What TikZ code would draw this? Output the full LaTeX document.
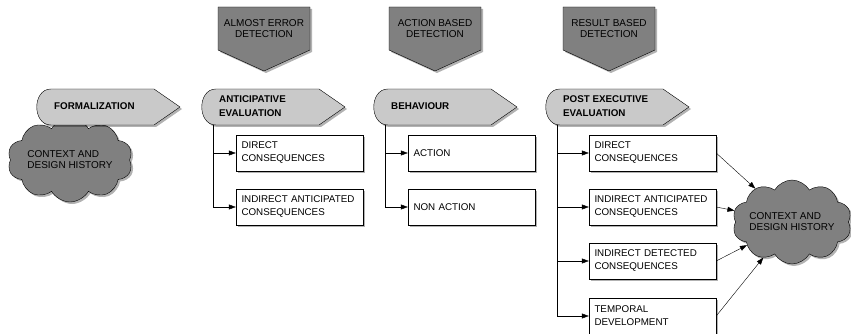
\documentclass[tikz,border=0pt]{standalone}
\usepackage{fontspec}
\setmainfont{Liberation Sans}
\usetikzlibrary{arrows.meta, shapes.symbols, shadows}
\definecolor{darkgrey}{gray}{0.5}
\definecolor{lightgrey}{gray}{0.79}
\tikzset{
  dropsh/.style={drop shadow={shadow xshift=2pt, shadow yshift=-2pt, opacity=.3, fill=black}},
  dettag/.style={draw, thin, fill=darkgrey, dropsh},
  dettext/.style={align=center, font=\fontsize{10}{11}\selectfont},
  phase/.style={draw, thin, fill=lightgrey, dropsh},
  phasetext/.style={align=left, anchor=west, inner sep=0pt, font=\fontsize{9.8}{14}\selectfont\bfseries},
  conbox/.style={draw, thin, fill=white, dropsh, minimum width=127pt, minimum height=36pt,
    text width=116pt, inner xsep=5.5pt, align=left, font=\fontsize{9.8}{13}\selectfont},
  history/.style={cloud, cloud puffs=10, cloud puff arc=120, cloud ignores aspect, draw, thin,
    fill=darkgrey, dropsh, align=left, inner sep=0pt, font=\fontsize{10}{11}\selectfont},
  conn/.style={-{Triangle[length=7pt,width=5pt]}, thin}
}

\begin{document}
\begin{tikzpicture}[x=1pt, y=-1pt]
\useasboundingbox (0,0) rectangle (851,334);
% context clouds, behind the phases
\node[history, minimum width=125pt, minimum height=84pt] (ctxa) at (70,160) {CONTEXT AND\\DESIGN HISTORY};
\node[history, minimum width=118pt, minimum height=84pt] (ctxb) at (792,222) {CONTEXT AND\\DESIGN HISTORY};
% detection tags on top
\foreach \x/\n/\t in {218/aed/{ALMOST ERROR\\DETECTION}, 389/abd/{ACTION BASED\\DETECTION}, 563/rbd/{RESULT BASED\\DETECTION}}{
	\draw[dettag] (\x,7) -- ++(92,0) -- ++(0,43) -- ++(-46,21) -- ++(-46,-21) -- cycle;
	\node[dettext] (\n) at (\x+46,28.5) {\t};
	}
% phases
\foreach \x/\n/\t in {35/form/FORMALIZATION, 200/antev/{ANTICIPATIVE\\EVALUATION}, 372/behav/BEHAVIOUR, 544/postev/{POST EXECUTIVE\\EVALUATION}}{
	\draw[phase] (\x+16,89) -- ++(103,0) -- ++(26,18) -- ++(-26,18) -- ++(-103,0)
		.. controls (\x-3,125) and (\x-3,89) .. (\x+16,89) -- cycle;
	\node[phasetext] (\n) at (\x+19,106) {\t};
	\coordinate (\n-s) at (\x+13,125);
	}
% consequences
\node[conbox] (adc) at (299.5,153) {DIRECT\\CONSEQUENCES};
\node[conbox] (aic) at (299.5,207) {INDIRECT ANTICIPATED\\CONSEQUENCES};
\node[conbox] (act) at (471.5,153) {ACTION};
\node[conbox] (nact) at (471.5,207) {NON ACTION};
\node[conbox] (pdc) at (652.5,153) {DIRECT\\CONSEQUENCES};
\node[conbox] (pic) at (652.5,207) {INDIRECT ANTICIPATED\\CONSEQUENCES};
\node[conbox] (pid) at (652.5,261) {INDIRECT DETECTED\\CONSEQUENCES};
\node[conbox] (ptd) at (652.5,316) {TEMPORAL\\DEVELOPMENT};
\draw[conn] (antev-s) |- (adc.west);
\draw[conn] (antev-s) |- (aic.west);
\draw[conn] (behav-s) |- (act.west);
\draw[conn] (behav-s) |- (nact.west);
\foreach \b in {pdc,pic,pid,ptd}{
	\draw[conn] (postev-s) |- (\b.west);
	\draw[conn] (\b.east) -- (ctxb);
	}
\end{tikzpicture}
\end{document}
